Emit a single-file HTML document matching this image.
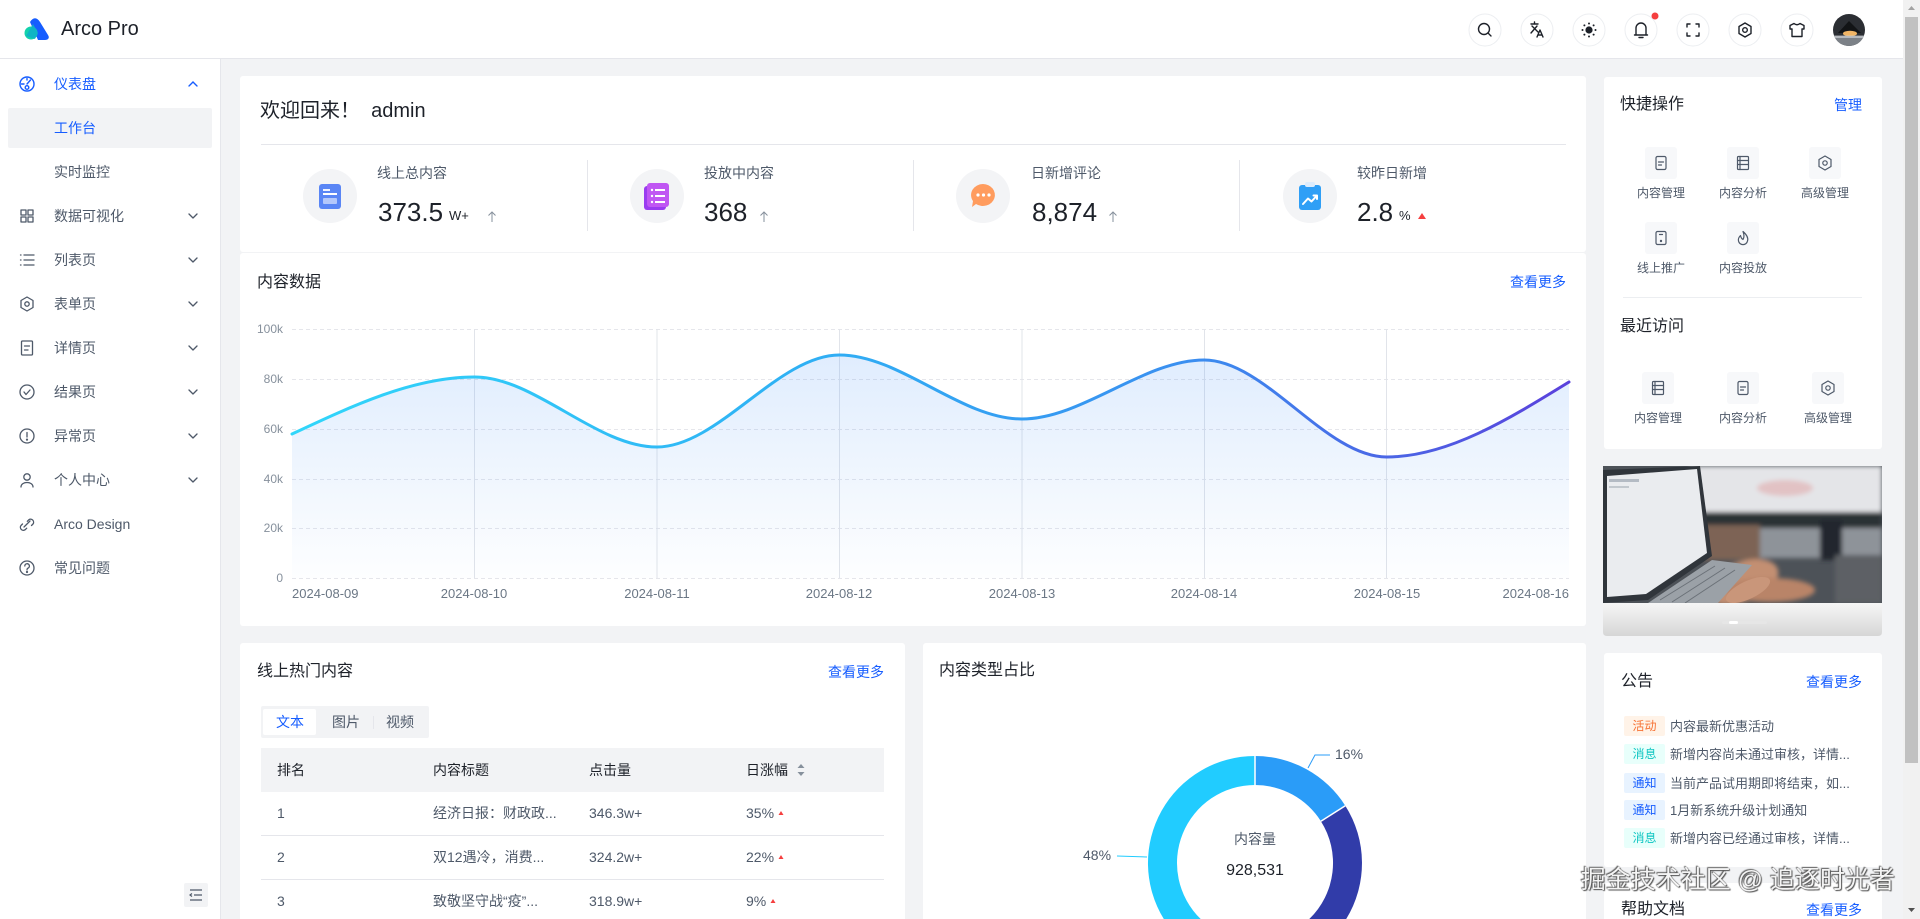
<!DOCTYPE html>
<html><head><meta charset="utf-8">
<style>
*{margin:0;padding:0;box-sizing:border-box}
html,body{width:1920px;height:919px;overflow:hidden;background:#f2f3f5;font-family:"Liberation Sans","Noto Sans CJK SC",sans-serif;color:#1d2129}
.a{position:absolute}
.t{position:absolute;white-space:nowrap;line-height:1}
.card{position:absolute;background:#fff;border-radius:3px}
.c{transform:translateX(-50%)}
.g{color:#4e5969}
.b{color:#165dff}
.tag{position:absolute;left:1624px;width:41px;height:20px;font-size:12px;line-height:20px;text-align:center;border-radius:2px}
.ni{position:absolute;left:1670px;font-size:13px;line-height:13px;color:#4e5969;white-space:nowrap}
</style></head><body>
<div class="a" style="left:0;top:0;width:1920px;height:919px;overflow:hidden">

<!-- header / sidebar / cards -->
<div class="a" style="left:0;top:0;width:1903px;height:59px;background:#fff;border-bottom:1px solid #e5e6eb"></div>
<div class="a" style="left:0;top:59px;width:221px;height:860px;background:#fff;border-right:1px solid #e5e6eb"></div>
<div class="a" style="left:8px;top:108px;width:204px;height:40px;background:#f2f3f5;border-radius:2px"></div>

<div class="card" style="left:240px;top:76px;width:1346px;height:176px"></div>
<div class="card" style="left:240px;top:253px;width:1346px;height:373px"></div>
<div class="card" style="left:240px;top:643px;width:665px;height:276px;border-radius:3px 3px 0 0"></div>
<div class="card" style="left:923px;top:643px;width:663px;height:276px;border-radius:3px 3px 0 0"></div>
<div class="card" style="left:1604px;top:77px;width:278px;height:372px"></div>
<div class="card" style="left:1604px;top:653px;width:278px;height:214px"></div>
<div class="card" style="left:1604px;top:883px;width:278px;height:36px;border-radius:3px 3px 0 0"></div>

<!-- table backgrounds -->
<div class="a" style="left:261px;top:706px;width:168px;height:32px;background:#f2f3f5;border-radius:2px"></div>
<div class="a" style="left:263px;top:709px;width:53px;height:26px;background:#fff;border-radius:2px"></div>
<div class="a" style="left:261px;top:748px;width:623px;height:44px;background:#f2f3f5"></div>

<svg class="a" style="left:0;top:0" width="1920" height="919" viewBox="0 0 1920 919">
<defs>
<linearGradient id="lg" gradientUnits="userSpaceOnUse" x1="292" y1="0" x2="1569" y2="0">
<stop offset="0" stop-color="#31d6fa"/><stop offset="0.4" stop-color="#2fb0f4"/><stop offset="0.7" stop-color="#3a8ff0"/><stop offset="1" stop-color="#5a41dc"/>
</linearGradient>
<linearGradient id="ag" gradientUnits="userSpaceOnUse" x1="0" y1="340" x2="0" y2="578">
<stop offset="0" stop-color="#3c8cf5" stop-opacity="0.17"/><stop offset="1" stop-color="#3c8cf5" stop-opacity="0.01"/>
</linearGradient>
<linearGradient id="sg" x1="0" y1="0" x2="0" y2="1">
<stop offset="0" stop-color="#f6f6f6"/><stop offset="1" stop-color="#d6d6d6"/>
</linearGradient>
<filter id="bl" x="-10%" y="-10%" width="120%" height="120%"><feGaussianBlur stdDeviation="2.5"/></filter>
<clipPath id="cp"><rect x="1603" y="466" width="279" height="137"/></clipPath>
<clipPath id="av"><circle cx="1849" cy="30" r="16"/></clipPath>
</defs>

<!-- logo -->
<path d="M30,22 C33,17 37,17 40,22 L48,35 C50,38 48,40 45,40 L38,40 Z" fill="#165dff"/>
<circle cx="31" cy="33" r="6.5" fill="#12d2ac"/>
<path d="M26,36 L33,24 L38,33 L35,39 Z" fill="#0fb0c8" opacity="0.9"/>

<!-- header icons -->
<g fill="#fff" stroke="#eceef1">
<circle cx="1485" cy="30" r="16"/><circle cx="1537" cy="30" r="16"/><circle cx="1589" cy="30" r="16"/><circle cx="1641" cy="30" r="16"/><circle cx="1693" cy="30" r="16"/><circle cx="1745" cy="30" r="16"/><circle cx="1797" cy="30" r="16"/>
</g>
<g fill="none" stroke="#1d2129" stroke-width="1.4" stroke-linecap="round" stroke-linejoin="round">
<circle cx="1484" cy="29" r="5.5"/><line x1="1488" y1="33" x2="1491" y2="36"/>
<path d="M1531,24 H1538 M1534.5,22 V24 M1532,26 L1538,32 M1537,26 L1531,33"/>
<path d="M1537,37 L1540,30 L1543,37 M1538.2,35 H1541.8"/>
<path d="M1636,35 V28 A5,5 0 0 1 1646,28 V35 Z M1634.5,35 H1647.5 M1639,37.5 H1643"/>
<path d="M1687,27 V24 H1690 M1696,24 H1699 V27 M1699,33 V36 H1696 M1690,36 H1687 V33"/>
<path d="M1745,23 L1751,26.5 V33.5 L1745,37 L1739,33.5 V26.5 Z"/><circle cx="1745" cy="30" r="2.3"/>
<path d="M1794,23.5 L1790,25.5 V29 H1792 V36.5 H1802 V29 H1804 V25.5 L1800,23.5 Q1797,26 1794,23.5 Z"/>
</g>
<circle cx="1589" cy="30" r="3.6" fill="#1d2129"/>
<g fill="#1d2129"><circle cx="1589" cy="23.5" r="1"/><circle cx="1589" cy="36.5" r="1"/><circle cx="1582.5" cy="30" r="1"/><circle cx="1595.5" cy="30" r="1"/><circle cx="1584.4" cy="25.4" r="1"/><circle cx="1593.6" cy="25.4" r="1"/><circle cx="1584.4" cy="34.6" r="1"/><circle cx="1593.6" cy="34.6" r="1"/></g>
<circle cx="1655" cy="16" r="3.5" fill="#f53f3f"/>
<g clip-path="url(#av)">
<rect x="1833" y="14" width="32" height="32" fill="#2b2e33"/>
<rect x="1833" y="36" width="32" height="10" fill="#7c8187"/>
<path d="M1838,33 L1849,21 L1861,33 Z" fill="#121416"/>
<ellipse cx="1850" cy="33.5" rx="7" ry="2.8" fill="#f1b565"/>
<rect x="1834" y="35.5" width="30" height="2.5" fill="#cdd1d5" opacity="0.7"/>
</g>

<!-- sidebar icons -->
<g fill="none" stroke="#165dff" stroke-width="1.4" stroke-linecap="round">
<circle cx="27" cy="84" r="7"/><path d="M27,84 L30.5,80 M24,84 H21.5 M27,78.5 V80"/><circle cx="27" cy="87.5" r="1.8"/>
<path d="M189,86 L193,82 L197,86"/>
</g>
<g fill="none" stroke="#4e5969" stroke-width="1.3" stroke-linecap="round" stroke-linejoin="round">
<rect x="21" y="210" width="5" height="5"/><rect x="28" y="210" width="5" height="5"/><rect x="21" y="217" width="5" height="5"/><rect x="28" y="217" width="5" height="5"/>
<path d="M24,255 H34 M24,260 H34 M24,265 H34 M20.5,255 H21 M20.5,260 H21 M20.5,265 H21"/>
<path d="M27,297 L33,300.5 V307.5 L27,311 L21,307.5 V300.5 Z"/><circle cx="27" cy="304" r="2.2"/>
<rect x="21.5" y="341" width="11" height="14" rx="1"/><path d="M24.5,346 H29.5 M24.5,350 H28"/>
<circle cx="27" cy="392" r="7"/><path d="M24,392 L26,394.5 L30,390"/>
<circle cx="27" cy="436" r="7"/><path d="M27,432.5 V437"/><circle cx="27" cy="439.6" r="0.5"/>
<circle cx="27" cy="477" r="3.2"/><path d="M21,487 C21,481 33,481 33,487"/>
<path d="M22.5,524 L21,525.5 A3,3 0 0 0 25.2,529.7 L26.7,528.2 M27.3,521.3 L28.8,519.8 A3,3 0 0 1 33,524 L31.5,525.5 M24,527 L30,521"/>
<circle cx="27" cy="568" r="7"/><path d="M24.8,566 A2.3,2.3 0 1 1 27.8,568.2 C27.2,568.5 27,569 27,570"/><circle cx="27" cy="572" r="0.5"/>
<path d="M189,214 L193,218 L197,214 M189,258 L193,262 L197,258 M189,302 L193,306 L197,302 M189,346 L193,350 L197,346 M189,390 L193,394 L197,390 M189,434 L193,438 L197,434 M189,478 L193,482 L197,478"/>
</g>
<rect x="184" y="883" width="24" height="24" rx="2" fill="#f2f3f5"/>
<path d="M190,890 H202 M194,895 H202 M190,900 H202 M192,893.5 L190,895 L192,896.5" fill="none" stroke="#4e5969" stroke-width="1.2"/>

<!-- welcome divider and stat section -->
<line x1="261" y1="144.5" x2="1566" y2="144.5" stroke="#e5e6eb"/>
<g stroke="#e5e6eb"><line x1="587.5" y1="160" x2="587.5" y2="231"/><line x1="913.5" y1="160" x2="913.5" y2="231"/><line x1="1239.5" y1="160" x2="1239.5" y2="231"/></g>
<g fill="#f3f4f6"><circle cx="330" cy="196" r="27"/><circle cx="657" cy="196" r="27"/><circle cx="983" cy="196" r="27"/><circle cx="1310" cy="196" r="27"/></g>
<rect x="319" y="184" width="22" height="25" rx="3" fill="#5a86f5"/>
<rect x="323" y="189" width="7" height="2" fill="#fff" opacity="0.9"/><rect x="323" y="193" width="14" height="2" fill="#fff"/><rect x="323" y="198" width="14" height="6" rx="1" fill="#fff" opacity="0.55"/>
<rect x="644" y="186" width="22" height="24" rx="3" fill="#9a3cf0"/>
<rect x="647" y="183" width="22" height="24" rx="3" fill="#c056f3"/>
<g fill="#fff"><circle cx="652" cy="190" r="1.2"/><rect x="655" y="189" width="10" height="2"/><circle cx="652" cy="196" r="1.2"/><rect x="655" y="195" width="10" height="2"/><circle cx="652" cy="202" r="1.2"/><rect x="655" y="201" width="10" height="2"/></g>
<path d="M983,184 A12,11 0 1 1 976,204 L972,207 L973,201 A12,11 0 0 1 983,184 Z" fill="#ff9c5e"/>
<g fill="#fff"><circle cx="978" cy="195" r="1.6"/><circle cx="983.5" cy="195" r="1.6"/><circle cx="989" cy="195" r="1.6"/></g>
<rect x="1299" y="185" width="22" height="25" rx="3" fill="#2f9ff6"/>
<rect x="1305" y="182" width="10" height="5" rx="2" fill="#dcecfd"/>
<path d="M1303,204 L1308,198.5 L1311.5,201.5 L1317,195.5 M1313.5,195.5 H1317 V199" fill="none" stroke="#fff" stroke-width="2" stroke-linecap="round" stroke-linejoin="round"/>
<g fill="none" stroke="#86909c" stroke-width="1"><path d="M492,212 V222 M488.5,215.5 L492,212 L495.5,215.5"/><path d="M764,212 V222 M760.5,215.5 L764,212 L767.5,215.5"/><path d="M1113,212 V222 M1109.5,215.5 L1113,212 L1116.5,215.5"/></g>
<path d="M1418,219 H1426 L1422,213 Z" fill="#f53f3f"/>

<!-- line chart -->
<g stroke="#e5e6eb" stroke-width="1" stroke-dasharray="4 3">
<line x1="292" y1="329.5" x2="1569" y2="329.5"/><line x1="292" y1="379.5" x2="1569" y2="379.5"/><line x1="292" y1="429.5" x2="1569" y2="429.5"/><line x1="292" y1="479.5" x2="1569" y2="479.5"/><line x1="292" y1="528.5" x2="1569" y2="528.5"/><line x1="292" y1="578.5" x2="1569" y2="578.5"/>
</g>
<g stroke="#e1e4ea" stroke-width="1">
<line x1="474.5" y1="329" x2="474.5" y2="578"/><line x1="657" y1="329" x2="657" y2="578"/><line x1="839.5" y1="329" x2="839.5" y2="578"/><line x1="1022" y1="329" x2="1022" y2="578"/><line x1="1204.5" y1="329" x2="1204.5" y2="578"/><line x1="1386.5" y1="329" x2="1386.5" y2="578"/>
</g>
<path d="M292,434 C352.8,405.5 413.6,377 474.4,377 C535.2,377 596.1,447 656.9,447 C717.7,447 778.5,355 839.3,355 C900.1,355 960.9,419 1021.7,419 C1082.5,419 1143.4,360 1204.2,360 C1265,360 1325.8,457 1386.6,457 C1447.4,457 1508.2,419.5 1569,382 L1569,578 L292,578 Z" fill="url(#ag)"/>
<path d="M292,434 C352.8,405.5 413.6,377 474.4,377 C535.2,377 596.1,447 656.9,447 C717.7,447 778.5,355 839.3,355 C900.1,355 960.9,419 1021.7,419 C1082.5,419 1143.4,360 1204.2,360 C1265,360 1325.8,457 1386.6,457 C1447.4,457 1508.2,419.5 1569,382" fill="none" stroke="url(#lg)" stroke-width="3" stroke-linecap="round"/>

<!-- table lines & icons -->
<line x1="373.5" y1="716" x2="373.5" y2="729" stroke="#e5e6eb"/>
<g stroke="#e5e6eb"><line x1="261" y1="835.5" x2="884" y2="835.5"/><line x1="261" y1="879.5" x2="884" y2="879.5"/></g>
<g fill="#86909c"><path d="M797.5,768 H804.5 L801,764 Z"/><path d="M797.5,772 H804.5 L801,776 Z"/></g>
<g fill="#f53f3f"><path d="M778.5,815 H783.5 L781,811 Z"/><path d="M778.5,859 H783.5 L781,855 Z"/><path d="M770.5,903 H775.5 L773,899 Z"/></g>

<!-- donut (clipped to frame bottom y=919) -->
<path d="M1255,756 A107,107 0 0 1 1345.3,805.7 L1320.9,821.2 A78,78 0 0 0 1255,785 Z" fill="#2a9cf8"/>
<path d="M1345.3,805.7 A107,107 0 0 1 1346.2,919 L1309.3,919 A78,78 0 0 0 1320.9,821.2 Z" fill="#313ca9"/>
<path d="M1163.8,919 A107,107 0 0 1 1255,756 L1255,785 A78,78 0 0 0 1200.7,919 Z" fill="#21ccff"/>
<g stroke="#fff" stroke-width="1.5">
<line x1="1255" y1="755.5" x2="1255" y2="785.5"/>
<line x1="1345.3" y1="805.7" x2="1320.9" y2="821.2"/>
</g>
<polyline points="1308,768 1315,755 1330,755" fill="none" stroke="#2a9cf8" stroke-width="1"/>
<polyline points="1117,856 1147,857" fill="none" stroke="#21ccff" stroke-width="1"/>

<!-- right column -->
<line x1="1623" y1="297.5" x2="1862" y2="297.5" stroke="#eceef1" stroke-width="1"/>
<g fill="#f7f8fa">
<rect x="1645" y="147" width="32" height="32" rx="3"/><rect x="1727" y="147" width="32" height="32" rx="3"/><rect x="1809" y="147" width="32" height="32" rx="3"/>
<rect x="1645" y="222" width="32" height="32" rx="3"/><rect x="1727" y="222" width="32" height="32" rx="3"/>
<rect x="1642" y="372" width="32" height="32" rx="3"/><rect x="1727" y="372" width="32" height="32" rx="3"/><rect x="1812" y="372" width="32" height="32" rx="3"/>
</g>
<g fill="none" stroke="#4e5969" stroke-width="1.2" stroke-linecap="round" stroke-linejoin="round">
<rect x="1656" y="156.5" width="10" height="13" rx="1.5"/><path d="M1658.5,162 H1663.5 M1658.5,165 H1661.5"/>
<rect x="1737.5" y="156.5" width="11" height="13" rx="1"/><path d="M1737.5,160.5 H1748.5 M1737.5,164.5 H1748.5 M1740,156.5 V169.5"/>
<path d="M1825,156 L1831,159.5 V166.5 L1825,170 L1819,166.5 V159.5 Z"/><circle cx="1825" cy="163" r="2.2"/>
<rect x="1656" y="231.5" width="10" height="13" rx="1.5"/><path d="M1659.5,234.5 H1662.5"/><circle cx="1661" cy="241" r="0.6"/>
<path d="M1743,231.5 C1747,235 1748.5,238 1747.5,241 A4.6,4.6 0 0 1 1738.5,241 C1738,239 1739,237 1740.5,235.5 C1741,238 1742,239 1743,239.5 C1744.5,237 1744,234 1743,231.5 Z"/>
<rect x="1652.5" y="381.5" width="11" height="13" rx="1"/><path d="M1652.5,385.5 H1663.5 M1652.5,389.5 H1663.5 M1655,381.5 V394.5"/>
<rect x="1738" y="381.5" width="10" height="13" rx="1.5"/><path d="M1740.5,387 H1745.5 M1740.5,390 H1743.5"/>
<path d="M1828,381 L1834,384.5 V391.5 L1828,395 L1822,391.5 V384.5 Z"/><circle cx="1828" cy="388" r="2.2"/>
</g>

<!-- carousel image -->
<g clip-path="url(#cp)">
<rect x="1603" y="466" width="279" height="137" fill="#4d5258"/>
<g filter="url(#bl)">
<rect x="1690" y="466" width="192" height="49" fill="#e4e5e8"/>
<ellipse cx="1785" cy="488" rx="28" ry="8" fill="#e2c2c4"/>
<rect x="1690" y="512" width="192" height="16" fill="#2c3136"/>
<rect x="1752" y="528" width="130" height="30" fill="#8e9399"/>
<rect x="1820" y="520" width="22" height="40" fill="#24282d"/>
<rect x="1700" y="525" width="60" height="35" fill="#7d6455"/>
<ellipse cx="1742" cy="582" rx="38" ry="20" fill="#c38f72" transform="rotate(-20 1742 582)"/>
<ellipse cx="1770" cy="590" rx="45" ry="12" fill="#b98468"/>
<rect x="1835" y="555" width="47" height="48" fill="#5d6165"/>
</g>
<path d="M1603,470 L1700,466 L1712,556 L1648,600 L1603,603 Z" fill="#30353b"/>
<path d="M1607,476 L1697,469 L1707,553 L1646,594 L1607,597 Z" fill="#eaecef"/>
<rect x="1609" y="479" width="30" height="3" fill="#7d8a99" opacity="0.5"/>
<rect x="1609" y="486" width="20" height="2" fill="#9aa3ad" opacity="0.5"/>
<path d="M1648,603 L1712,560 L1752,565 L1718,603 Z" fill="#9ba1a7"/>
<path d="M1660,600 L1715,566 M1672,602 L1725,568 M1685,603 L1735,570" stroke="#6b7178" stroke-width="1"/>
<ellipse cx="1748" cy="590" rx="24" ry="9" fill="#c9967a" transform="rotate(-25 1748 590)"/>
</g>
<path d="M1603,603 H1882 V632 Q1882,636 1878,636 H1607 Q1603,636 1603,632 Z" fill="url(#sg)"/>
<rect x="1722" y="621" width="45" height="3" rx="1.5" fill="#e6e6e6"/>
<rect x="1729" y="621" width="9" height="3" rx="1.5" fill="#fff"/>

<!-- scrollbar -->
<rect x="1903" y="0" width="17" height="919" fill="#f1f1f1"/>
<rect x="1905" y="17" width="13" height="746" fill="#c1c1c1"/>
<path d="M1908,10 H1915 L1911.5,6 Z" fill="#a3a3a3"/>
<path d="M1908,908 H1915 L1911.5,912 Z" fill="#505050"/>
</svg>

<!-- TEXT -->
<div class="t" style="left:61px;top:19px;font-size:20px">Arco Pro</div>

<div class="t b" style="left:54px;top:77px;font-size:14px">仪表盘</div>
<div class="t b" style="left:54px;top:121px;font-size:14px">工作台</div>
<div class="t g" style="left:54px;top:165px;font-size:14px">实时监控</div>
<div class="t g" style="left:54px;top:209px;font-size:14px">数据可视化</div>
<div class="t g" style="left:54px;top:253px;font-size:14px">列表页</div>
<div class="t g" style="left:54px;top:297px;font-size:14px">表单页</div>
<div class="t g" style="left:54px;top:341px;font-size:14px">详情页</div>
<div class="t g" style="left:54px;top:385px;font-size:14px">结果页</div>
<div class="t g" style="left:54px;top:429px;font-size:14px">异常页</div>
<div class="t g" style="left:54px;top:473px;font-size:14px">个人中心</div>
<div class="t g" style="left:54px;top:517px;font-size:14px">Arco Design</div>
<div class="t g" style="left:54px;top:561px;font-size:14px">常见问题</div>

<div class="t" style="left:260px;top:101px;font-size:20px">欢迎回来！&nbsp; admin</div>

<div class="t g" style="left:377px;top:166px;font-size:14px">线上总内容</div>
<div class="t g" style="left:704px;top:166px;font-size:14px">投放中内容</div>
<div class="t g" style="left:1031px;top:166px;font-size:14px">日新增评论</div>
<div class="t g" style="left:1357px;top:166px;font-size:14px">较昨日新增</div>
<div class="t" style="left:378px;top:199px;font-size:26px">373.5</div>
<div class="t" style="left:449px;top:209px;font-size:13px">W+</div>
<div class="t" style="left:704px;top:199px;font-size:26px">368</div>
<div class="t" style="left:1032px;top:199px;font-size:26px">8,874</div>
<div class="t" style="left:1357px;top:199px;font-size:26px">2.8</div>
<div class="t" style="left:1399px;top:209px;font-size:13px">%</div>

<div class="t" style="left:257px;top:275px;font-size:16px">内容数据</div>
<div class="t b" style="right:354px;top:275px;font-size:14px">查看更多</div>

<div class="t" style="right:1637px;top:323px;font-size:12px;color:#86909c">100k</div>
<div class="t" style="right:1637px;top:373px;font-size:12px;color:#86909c">80k</div>
<div class="t" style="right:1637px;top:423px;font-size:12px;color:#86909c">60k</div>
<div class="t" style="right:1637px;top:473px;font-size:12px;color:#86909c">40k</div>
<div class="t" style="right:1637px;top:522px;font-size:12px;color:#86909c">20k</div>
<div class="t" style="right:1637px;top:572px;font-size:12px;color:#86909c">0</div>

<div class="t" style="left:292px;top:587px;font-size:13px;color:#6b7785">2024-08-09</div>
<div class="t c" style="left:474px;top:587px;font-size:13px;color:#6b7785">2024-08-10</div>
<div class="t c" style="left:657px;top:587px;font-size:13px;color:#6b7785">2024-08-11</div>
<div class="t c" style="left:839px;top:587px;font-size:13px;color:#6b7785">2024-08-12</div>
<div class="t c" style="left:1022px;top:587px;font-size:13px;color:#6b7785">2024-08-13</div>
<div class="t c" style="left:1204px;top:587px;font-size:13px;color:#6b7785">2024-08-14</div>
<div class="t c" style="left:1387px;top:587px;font-size:13px;color:#6b7785">2024-08-15</div>
<div class="t" style="right:351px;top:587px;font-size:13px;color:#6b7785">2024-08-16</div>

<div class="t" style="left:257px;top:664px;font-size:16px">线上热门内容</div>
<div class="t b" style="right:1036px;top:665px;font-size:14px">查看更多</div>
<div class="t b c" style="left:290px;top:715px;font-size:14px">文本</div>
<div class="t g c" style="left:346px;top:715px;font-size:14px">图片</div>
<div class="t g c" style="left:400px;top:715px;font-size:14px">视频</div>

<div class="t" style="left:277px;top:763px;font-size:14px">排名</div>
<div class="t" style="left:433px;top:763px;font-size:14px">内容标题</div>
<div class="t" style="left:589px;top:763px;font-size:14px">点击量</div>
<div class="t" style="left:746px;top:763px;font-size:14px">日涨幅</div>

<div class="t g" style="left:277px;top:806px;font-size:14px">1</div>
<div class="t g" style="left:433px;top:806px;font-size:14px">经济日报：财政政...</div>
<div class="t g" style="left:589px;top:806px;font-size:14px">346.3w+</div>
<div class="t g" style="left:746px;top:806px;font-size:14px">35%</div>
<div class="t g" style="left:277px;top:850px;font-size:14px">2</div>
<div class="t g" style="left:433px;top:850px;font-size:14px">双12遇冷，消费...</div>
<div class="t g" style="left:589px;top:850px;font-size:14px">324.2w+</div>
<div class="t g" style="left:746px;top:850px;font-size:14px">22%</div>
<div class="t g" style="left:277px;top:894px;font-size:14px">3</div>
<div class="t g" style="left:433px;top:894px;font-size:14px">致敬坚守战“疫”...</div>
<div class="t g" style="left:589px;top:894px;font-size:14px">318.9w+</div>
<div class="t g" style="left:746px;top:894px;font-size:14px">9%</div>

<div class="t" style="left:939px;top:663px;font-size:16px">内容类型占比</div>
<div class="t g" style="left:1335px;top:747px;font-size:14px">16%</div>
<div class="t g" style="left:1083px;top:848px;font-size:14px">48%</div>
<div class="t g c" style="left:1255px;top:832px;font-size:14px">内容量</div>
<div class="t c" style="left:1255px;top:863px;font-size:16px;color:#1d2129">928,531</div>

<div class="t" style="left:1620px;top:97px;font-size:16px">快捷操作</div>
<div class="t b" style="right:58px;top:98px;font-size:14px">管理</div>
<div class="t g c" style="left:1661px;top:187px;font-size:12px">内容管理</div>
<div class="t g c" style="left:1743px;top:187px;font-size:12px">内容分析</div>
<div class="t g c" style="left:1825px;top:187px;font-size:12px">高级管理</div>
<div class="t g c" style="left:1661px;top:262px;font-size:12px">线上推广</div>
<div class="t g c" style="left:1743px;top:262px;font-size:12px">内容投放</div>

<div class="t" style="left:1620px;top:319px;font-size:16px">最近访问</div>
<div class="t g c" style="left:1658px;top:412px;font-size:12px">内容管理</div>
<div class="t g c" style="left:1743px;top:412px;font-size:12px">内容分析</div>
<div class="t g c" style="left:1828px;top:412px;font-size:12px">高级管理</div>

<div class="t" style="left:1621px;top:674px;font-size:16px">公告</div>
<div class="t b" style="right:58px;top:675px;font-size:14px">查看更多</div>
<div class="tag" style="top:716px;background:#fff3e8;color:#f77234">活动</div>
<div class="ni" style="top:719.5px">内容最新优惠活动</div>
<div class="tag" style="top:744px;background:#e8fffb;color:#0fc6c2">消息</div>
<div class="ni" style="top:747.5px">新增内容尚未通过审核，详情...</div>
<div class="tag" style="top:773px;background:#e8f3ff;color:#165dff">通知</div>
<div class="ni" style="top:776.5px">当前产品试用期即将结束，如...</div>
<div class="tag" style="top:800px;background:#e8f3ff;color:#165dff">通知</div>
<div class="ni" style="top:803.5px">1月新系统升级计划通知</div>
<div class="tag" style="top:828px;background:#e8fffb;color:#0fc6c2">消息</div>
<div class="ni" style="top:831.5px">新增内容已经通过审核，详情...</div>

<div class="t" style="left:1621px;top:902px;font-size:16px">帮助文档</div>
<div class="t b" style="right:58px;top:903px;font-size:14px">查看更多</div>

<div class="t" style="right:25px;top:868px;font-size:25px;color:#f4f4f4;text-shadow:0 0 1px #444,1px 1px 1px #555,-1px -1px 1px #666">掘金技术社区 @ 追逐时光者</div>

</div>
</body></html>
